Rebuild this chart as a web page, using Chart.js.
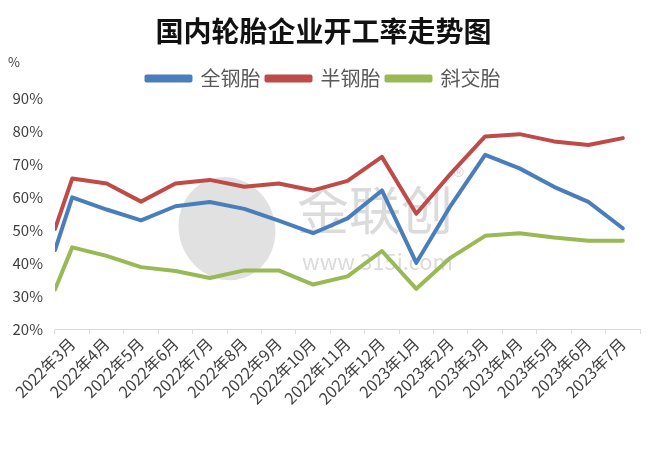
<!DOCTYPE html>
<html>
<head>
<meta charset="utf-8">
<script src="https://cdn.jsdelivr.net/npm/chart.js@4"></script>
<style>
  html, body { margin: 0; padding: 0; background: #fff; }
  #wrap { width: 660px; height: 450px; position: relative; }
</style>
</head>
<body>
<div id="wrap"><canvas id="chart"></canvas></div>
<script>
// categorias (meses) e séries
const months = ['2022年3月', '2022年4月', '2022年5月', '2022年6月', '2022年7月', '2022年8月',
    '2022年9月', '2022年10月', '2022年11月', '2022年12月', '2023年1月', '2023年2月',
    '2023年3月', '2023年4月', '2023年5月', '2023年6月', '2023年7月'];
// primeiro valor = ponto inicial na borda esquerda do eixo
const allSteel = [44, 60, 56.3, 53, 57.3, 58.6, 56.5, 52.9, 49.1, 53.6, 62.1, 40.1, 57.5, 72.9, 68.8, 63.2, 58.6, 50.6];
const semiSteel = [50.4, 65.7, 64.2, 58.7, 64.2, 65.3, 63.2, 64.2, 62.1, 65, 72.3, 55, 67.2, 78.5, 79.2, 77, 75.9, 78];
const biasPly = [32, 44.8, 42.2, 38.8, 37.6, 35.5, 37.8, 37.8, 33.5, 36, 43.7, 32.2, 41.7, 48.3, 49.1, 47.8, 46.8, 46.8];
const yTicks = [20, 30, 40, 50, 60, 70, 80, 90];

// posição x: borda inicial (-0.5) seguida dos índices dos meses
const xPos = [-0.5].concat(months.map((m, i) => i));
const toPoints = arr => arr.map((v, i) => ({ x: xPos[i], y: v }));

const FONT = "'Noto Sans CJK SC', 'Noto Sans', sans-serif";

// "%" no topo do eixo e marca d'água
const extras = {
    id: 'extras',
    beforeDatasetsDraw(chart) {
        const c = chart.ctx;
        const area = chart.chartArea;
        c.save();
        c.fillStyle = 'rgba(195,195,195,0.5)';
        c.beginPath();
        c.ellipse(area.left + 172, area.top + 130, 48, 52, -0.35, 0, Math.PI * 2);
        c.fill();
        c.fillStyle = 'rgba(170,170,170,0.42)';
        c.font = '52px ' + FONT;
        c.textBaseline = 'middle';
        c.fillText('金联创', area.left + 242, area.top + 112);
        c.font = '22px ' + FONT;
        c.fillText('www.315i.com', area.left + 247, area.top + 163);
        c.font = '24px ' + FONT;
        c.fillText('®', area.left + 398, area.top + 78);
        c.restore();
    },
    afterDraw(chart) {
        const c = chart.ctx;
        c.save();
        c.font = '13px ' + FONT;
        c.fillStyle = '#404040';
        c.textBaseline = 'middle';
        c.fillText('%', 8, 62);
        c.restore();
    }
};

const ctx = document.getElementById('chart').getContext('2d');
new Chart(ctx, {
    type: 'line',
    data: {
        datasets: [
            { label: '全钢胎', data: toPoints(allSteel), borderColor: '#4A7EBB', backgroundColor: '#4A7EBB' },
            { label: '半钢胎', data: toPoints(semiSteel), borderColor: '#BE4B48', backgroundColor: '#BE4B48' },
            { label: '斜交胎', data: toPoints(biasPly), borderColor: '#98B954', backgroundColor: '#98B954' }
        ]
    },
    options: {
        responsive: true,
        maintainAspectRatio: false,
        animation: false,
        layout: { padding: { left: 7, right: 20, top: 0, bottom: 0 } },
        elements: {
            line: { borderWidth: 4, tension: 0, borderJoinStyle: 'round', borderCapStyle: 'round' },
            point: { radius: 0 }
        },
        plugins: {
            title: {
                display: true,
                text: '国内轮胎企业开工率走势图',
                color: '#111',
                font: { family: FONT, size: 28, weight: 'bold' },
                padding: { top: 15, bottom: 14 }
            },
            legend: {
                display: true,
                labels: {
                    color: '#595959',
                    font: { family: FONT, size: 20 },
                    boxWidth: 44,
                    boxHeight: 4,
                    padding: 6
                }
            },
            tooltip: { enabled: false }
        },
        scales: {
            x: {
                type: 'linear',
                min: -0.5,
                max: months.length - 0.5,
                afterBuildTicks: axis => { axis.ticks = months.map((m, i) => ({ value: i })); },
                afterFit: axis => { axis.height = 121; },
                ticks: {
                    autoSkip: false,
                    minRotation: 45,
                    maxRotation: 45,
                    color: '#404040',
                    font: { family: FONT, size: 16 },
                    padding: 0,
                    callback: value => months[value]
                },
                grid: {
                    display: true,
                    offset: true,
                    drawOnChartArea: false,
                    drawTicks: true,
                    tickLength: 5,
                    color: '#D9D9D9'
                },
                border: { display: true, color: '#D9D9D9', width: 1 }
            },
            y: {
                min: 20,
                max: 90,
                afterBuildTicks: axis => { axis.ticks = yTicks.map(v => ({ value: v })); },
                afterFit: axis => { axis.width = 48; },
                ticks: {
                    color: '#404040',
                    font: { family: FONT, size: 15 },
                    padding: 4,
                    callback: value => value + '%'
                },
                grid: { display: false },
                border: { display: false }
            }
        }
    },
    plugins: [extras]
});
</script>
</body>
</html>
